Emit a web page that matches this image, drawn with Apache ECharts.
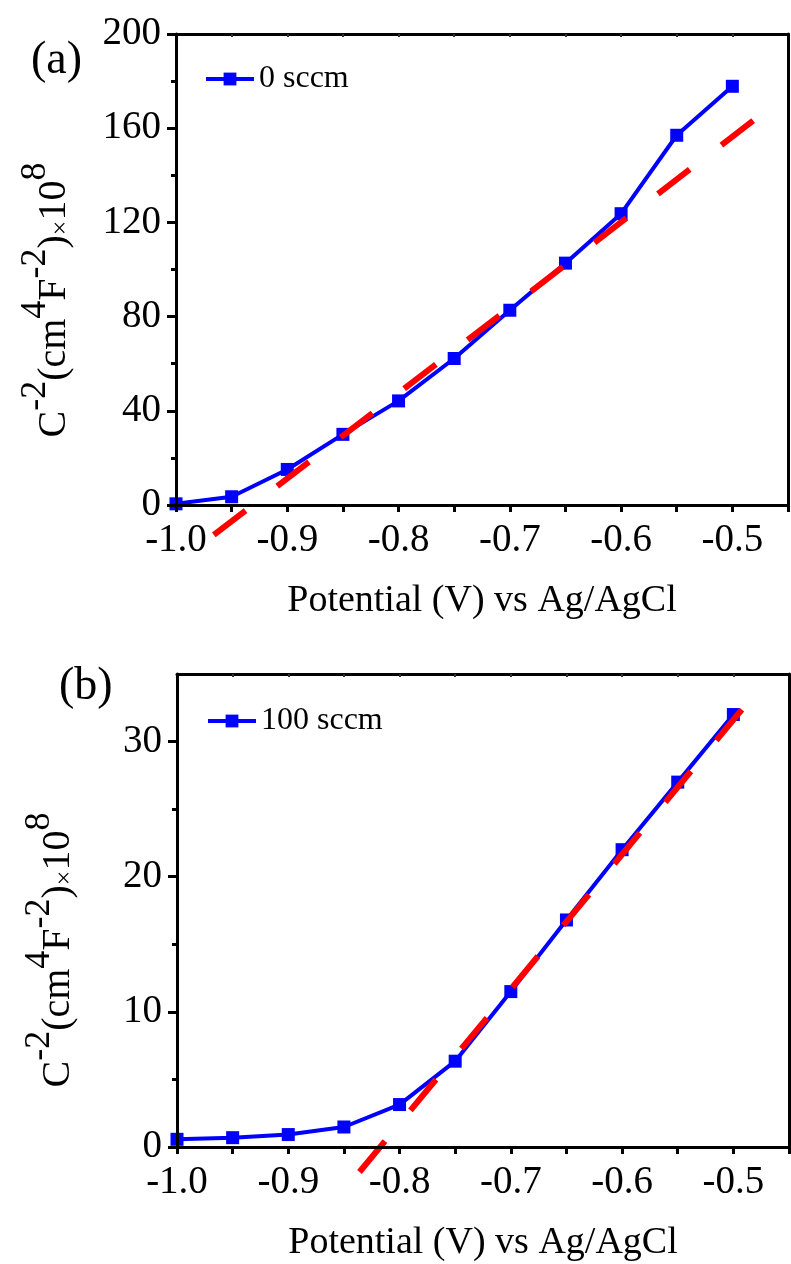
<!DOCTYPE html>
<html>
<head>
<meta charset="utf-8">
<script src="https://cdn.jsdelivr.net/npm/echarts@6/dist/echarts.min.js"></script>
<style>
html,body{margin:0;padding:0;background:#fff;}
#c{width:791px;height:1264px;}
</style>
</head>
<body>
<div id="c"></div>
<script>
// ---- data ----
const potentials = [-1.0, -0.95, -0.9, -0.85, -0.8, -0.75, -0.7, -0.65, -0.6, -0.55, -0.5];
const valuesA = [0.5, 3.5, 15.1, 30.0, 44.2, 62.2, 82.7, 102.7, 123.7, 157.0, 177.8];
const valuesB = [0.57, 0.69, 0.92, 1.48, 3.14, 6.35, 11.5, 16.8, 22.0, 27.0, 32.0];
const fitAX = [-0.966, -0.481];
const fitAY = [-12.7, 163.3];
const fitBX = [-0.836, -0.485];
const fitBY = [-1.85, 33.1];
const xTickVals = [-1.0, -0.95, -0.9, -0.85, -0.8, -0.75, -0.7, -0.65, -0.6, -0.55, -0.5, -0.45];
const xLabelVals = [-1.0, -0.9, -0.8, -0.7, -0.6, -0.5];
const yMajorA = [0, 40, 80, 120, 160, 200];
const yMinorA = [20, 60, 100, 140, 180];
const yMajorB = [0, 10, 20, 30];
const yMinorB = [5, 15, 25];
const seriesNameA = '0 sccm';
const seriesNameB = '100 sccm';
const xTitle = 'Potential (V) vs Ag/AgCl';

const FONT = '"Liberation Serif", "Times New Roman", serif';
const BLUE = '#0000ff';
const RED = '#ff0000';

function zip(xs, ys) { return xs.map((x, i) => [x, ys[i]]); }

function xMain(gridIndex) {
  return {
    type: 'value', gridIndex, position: 'bottom', min: -1.0, max: -0.45,
    axisLine: { show: true, onZero: false, lineStyle: { color: '#000', width: 3 } },
    axisTick: { show: true, inside: false, length: 7, lineStyle: { color: '#000', width: 3 }, customValues: xTickVals },
    axisLabel: { show: true, customValues: xLabelVals, formatter: v => v.toFixed(1), color: '#000', fontFamily: FONT, fontSize: 39, margin: 16 },
    splitLine: { show: false },
    name: xTitle, nameLocation: 'middle', nameGap: 77,
    nameTextStyle: { color: '#000', fontFamily: FONT, fontSize: 38 },
    z: 5
  };
}
function xTop(gridIndex) {
  return {
    type: 'value', gridIndex, position: 'top', min: -1.0, max: -0.45,
    axisLine: { show: true, onZero: false, lineStyle: { color: '#000', width: 3 } },
    axisTick: { show: true, inside: true, length: 3, lineStyle: { color: '#333', width: 2 }, customValues: xTickVals.slice(1, -1) },
    axisLabel: { show: false }, splitLine: { show: false }, z: 5
  };
}
function yMain(gridIndex, max, majors) {
  return {
    type: 'value', gridIndex, position: 'left', min: 0, max: max,
    axisLine: { show: true, onZero: false, lineStyle: { color: '#000', width: 3 } },
    axisTick: { show: true, inside: false, length: 9, lineStyle: { color: '#000', width: 3 }, customValues: majors },
    axisLabel: { show: true, customValues: majors, color: '#000', fontFamily: FONT, fontSize: 39, margin: 15 },
    splitLine: { show: false }, z: 5
  };
}
function yMinor(gridIndex, max, minors) {
  return {
    type: 'value', gridIndex, position: 'left', min: 0, max: max,
    axisLine: { show: false },
    axisTick: { show: true, inside: false, length: 5, lineStyle: { color: '#000', width: 3 }, customValues: minors },
    axisLabel: { show: false }, splitLine: { show: false }, z: 5
  };
}
function yRight(gridIndex, max) {
  return {
    type: 'value', gridIndex, position: 'right', min: 0, max: max,
    axisLine: { show: true, onZero: false, lineStyle: { color: '#000', width: 3 } },
    axisTick: { show: false }, axisLabel: { show: false }, splitLine: { show: false }, z: 5
  };
}

const yTitleRich = {
  m: { fontFamily: FONT, fontSize: 40, lineHeight: 40, verticalAlign: 'bottom', color: '#000' },
  p: { fontFamily: FONT, fontSize: 36, lineHeight: 36, verticalAlign: 'top', color: '#000' },
  x: { fontFamily: FONT, fontSize: 26, lineHeight: 56, verticalAlign: 'bottom', color: '#000' }
};
const yTitleText = '{m|C}{p|-2}{m|(cm}{p|4}{m|F}{p|-2}{m|)}{x|×}{m|10}{p|8}';

const chart = echarts.init(document.getElementById('c'), null, { renderer: 'canvas' });
chart.setOption({
  backgroundColor: '#fff',
  animation: false,
  grid: [
    { left: 176, top: 34, width: 612, height: 471, outerBoundsMode: 'none' },
    { left: 177, top: 674, width: 612, height: 473, outerBoundsMode: 'none' }
  ],
  xAxis: [xMain(0), xTop(0), xMain(1), xTop(1)],
  yAxis: [
    yMain(0, 200, yMajorA), yMinor(0, 200, yMinorA), yRight(0, 200),
    yMain(1, 35, yMajorB), yMinor(1, 35, yMinorB), yRight(1, 35)
  ],
  legend: [
    { data: [seriesNameA], left: 199, top: 58, itemWidth: 48, itemHeight: 16, itemGap: 5,
      lineStyle: { width: 4 },
      textStyle: { fontFamily: FONT, fontSize: 32, color: '#000' } },
    { data: [seriesNameB], left: 201, top: 700, itemWidth: 48, itemHeight: 16, itemGap: 5,
      lineStyle: { width: 4 },
      textStyle: { fontFamily: FONT, fontSize: 32, color: '#000' } }
  ],
  graphic: [
    { type: 'text', left: 31, top: 38, style: { text: '(a)', font: '46px ' + FONT, fill: '#000' } },
    { type: 'text', left: 59, top: 664, style: { text: '(b)', font: '46px ' + FONT, fill: '#000' } },
    { type: 'text', x: 46, y: 300, rotation: Math.PI / 2,
      style: { text: yTitleText, rich: yTitleRich, align: 'center', verticalAlign: 'middle', fill: '#000' } },
    { type: 'text', x: 50, y: 950, rotation: Math.PI / 2,
      style: { text: yTitleText, rich: yTitleRich, align: 'center', verticalAlign: 'middle', fill: '#000' } }
  ],
  series: [
    { name: seriesNameA, type: 'line', xAxisIndex: 0, yAxisIndex: 0, data: zip(potentials, valuesA),
      symbol: 'rect', symbolSize: 13, showAllSymbol: true, color: BLUE,
      itemStyle: { color: BLUE }, lineStyle: { color: BLUE, width: 4 }, z: 3 },
    { name: 'fitA', type: 'line', xAxisIndex: 0, yAxisIndex: 0, data: zip(fitAX, fitAY),
      symbol: 'none', clip: false, color: RED,
      lineStyle: { color: RED, width: 6, type: [40, 40], cap: 'butt' }, z: 4 },
    { name: seriesNameB, type: 'line', xAxisIndex: 2, yAxisIndex: 3, data: zip(potentials, valuesB),
      symbol: 'rect', symbolSize: 13, showAllSymbol: true, color: BLUE,
      itemStyle: { color: BLUE }, lineStyle: { color: BLUE, width: 4 }, z: 3 },
    { name: 'fitB', type: 'line', xAxisIndex: 2, yAxisIndex: 3, data: zip(fitBX, fitBY),
      symbol: 'none', clip: false, color: RED,
      lineStyle: { color: RED, width: 6, type: [40, 40], cap: 'butt' }, z: 4 }
  ]
});
</script>
</body>
</html>
